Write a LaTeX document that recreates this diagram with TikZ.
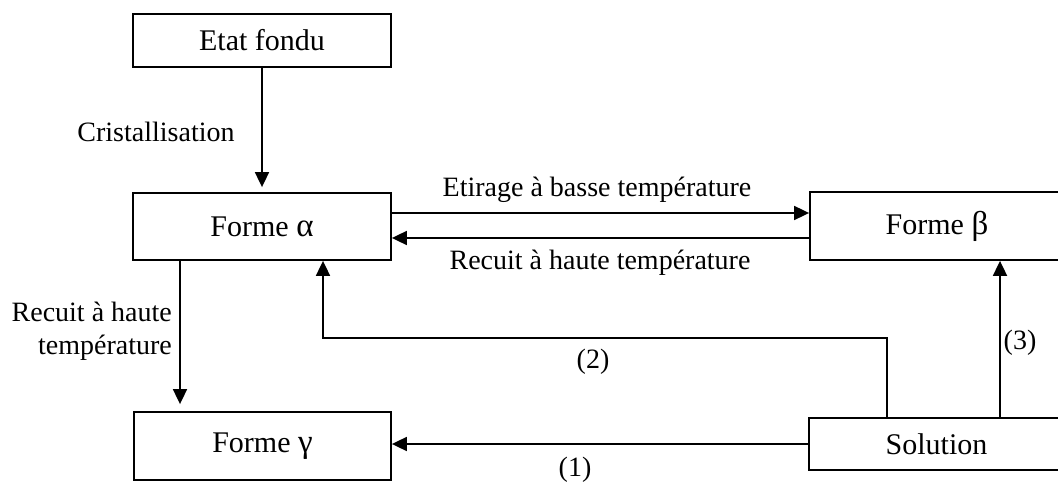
\documentclass[tikz,border=0pt]{standalone}
\usepackage{fontspec}
\setmainfont{Liberation Serif}
\usetikzlibrary{arrows.meta}
\newcommand{\grk}[1]{{\fontsize{33}{33}\selectfont #1}}
\begin{document}
\begin{tikzpicture}[x=1pt,y=-1pt,
  box/.style={draw,line width=1.8pt,rectangle,inner sep=0pt,font=\fontsize{30}{34}\selectfont},
  lbl/.style={inner sep=0pt,font=\fontsize{28}{33}\selectfont},
  arr/.style={line width=1.8pt,-{Triangle[length=15pt,width=14pt]}},
  ln/.style={line width=1.8pt}]
\useasboundingbox (0,0) rectangle (1058,486);
\clip (0,0) rectangle (1058,486);
\node[box,minimum width=258pt,minimum height=53pt] (fondu) at (262,40.5) {Etat fondu};
\node[box,minimum width=258pt,minimum height=67pt] (alpha) at (262,226.5) {Forme \grk{α}};
\node[box,minimum width=254pt,minimum height=68pt] (beta) at (937,226) {Forme \grk{β}};
\node[box,minimum width=257pt,minimum height=68pt] (gamma) at (262.5,446) {Forme \grk{γ}};
\node[box,minimum width=255pt,minimum height=52pt] (sol) at (936.5,444) {Solution};
% labels
\node[lbl] (cr) at (156,132) {Cristallisation};
\node[lbl] (et) at (597,190) {Etirage à basse température};
\node[lbl] (rc) at (600,263) {Recuit à haute température};
\node[lbl,align=right,anchor=east] (rg) at (172,331) {Recuit à haute\\température};
\node[lbl] (l2) at (593,362) {(2)};
\node[lbl] (l3) at (1020,343) {(3)};
\node[lbl] (l1) at (575,470) {(1)};
% connectors
\draw[arr,shorten >=5pt] (fondu.south) -- (alpha.north);
\draw[arr] ([yshift=13.5pt]alpha.east) -- ([yshift=13.5pt]alpha.east -| beta.west);
\draw[arr] ([yshift=-11.5pt]alpha.east -| beta.west) -- ([yshift=-11.5pt]alpha.east);
\draw[arr,shorten >=7pt] ([xshift=-82pt]alpha.south) -- ([xshift=-82pt]alpha.south |- gamma.north);
\coordinate (k2) at (887,338);
\coordinate (k2b) at (323,338);
\coordinate (k3) at (1000,444);
\draw[arr] (sol.north -| k2) -- (k2) -- (k2b) -- (alpha.south -| k2b);
\draw[arr] (sol.north -| k3) -- (beta.south -| k3);
\draw[arr] (sol.west) -- (gamma.east |- sol.west);
\end{tikzpicture}
\end{document}
